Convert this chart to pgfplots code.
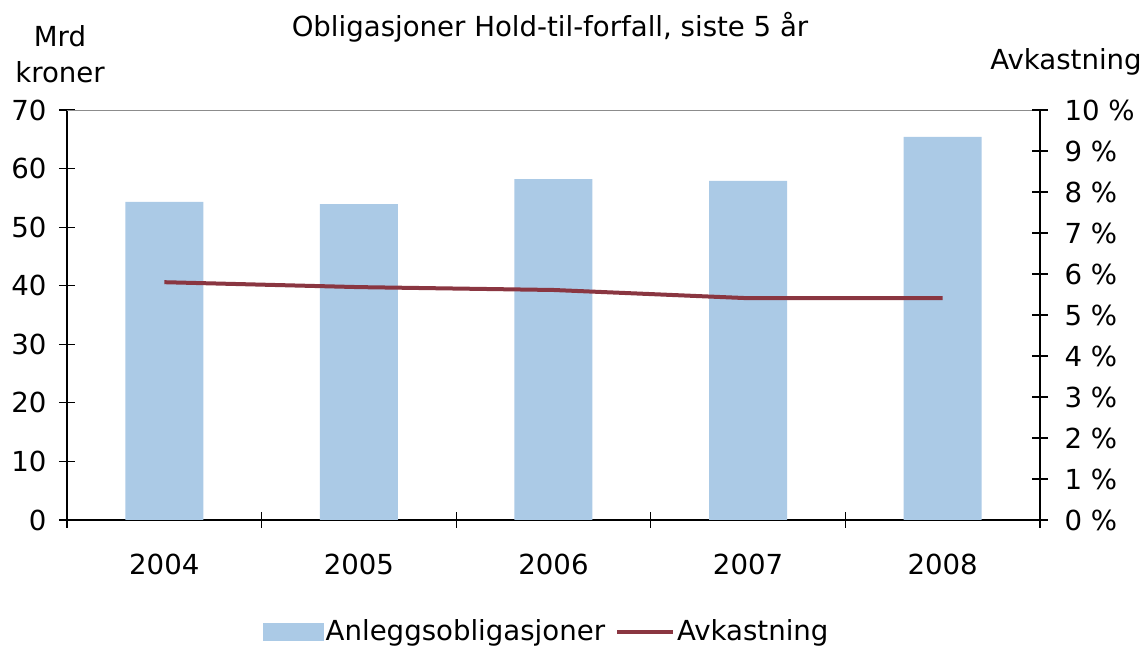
\documentclass[border=0pt]{standalone}
\usepackage{pgfplots}
\pgfplotsset{compat=1.18}
\usepackage{fontspec}
\setmainfont{DejaVu Sans}
\definecolor{barblue}{HTML}{ABCAE6}
\definecolor{linered}{HTML}{8A3641}
\definecolor{topgray}{HTML}{8C8C8C}

\pgfplotstableread{
x  mrd   avk
0  54.3  5.80
1  53.95 5.68
2  58.2  5.61
3  57.9  5.41
4  65.4  5.41
}\datatab

\begin{document}
\fontsize{13.8}{16}\selectfont
\begin{tikzpicture}
\pgfplotsset{
  common/.style={
    at={(0,0)}, anchor=south west,
    scale only axis,
    width=486.5pt, height=205pt,
    xmin=-0.5, xmax=4.5,
    /pgf/number format/assume math mode=true,
    tick align=center,
    major tick length=8pt,
    tick style={line width=0.6pt, black},
    axis line style={line width=0.7pt, black},
    ticklabel style={font=\fontsize{13.8}{16}\selectfont},
  }
}
\begin{axis}[
  common,
  axis x line*=bottom, axis y line*=left,
  ymin=0, ymax=70, ytick={0,10,...,70},
  yticklabel style={xshift=-1.5pt},
  xtick={0,1,2,3,4},
  xticklabels={2004,2005,2006,2007,2008},
  major x tick style={draw=none},
  xticklabel style={yshift=-8pt},
  extra x ticks={-0.5,0.5,1.5,2.5,3.5,4.5},
  extra x tick labels={},
  extra x tick style={major x tick style={draw=black, line width=0.6pt}},
]
\addplot[ybar, bar width=39pt, fill=barblue, draw=none, bar shift=0pt]
  table[x=x, y=mrd] {\datatab};
\draw[topgray, line width=1pt] (rel axis cs:0,1) -- (rel axis cs:1,1);
\end{axis}
\begin{axis}[
  common,
  axis y line*=right, axis x line=none,
  ymin=0, ymax=10, ytick={0,1,...,10},
  yticklabel={\pgfmathprintnumber{\tick}~\%},
  yticklabel style={xshift=3.5pt},
  legend columns=2,
  legend style={draw=none, fill=none, at={(0.493,-0.273)}, anchor=center,
    font=\fontsize{13.8}{16}\selectfont,
    /tikz/every even column/.append style={column sep=4pt},
    inner sep=0pt, nodes={inner sep=1pt}},
]
\addlegendimage{legend image code/.code={
  \fill[barblue] (0pt,-4.25pt) rectangle (30pt,4.25pt);}}
\addlegendentry{Anleggsobligasjoner}
\addplot[linered, line width=2pt, mark=none,
  legend image code/.code={\draw[linered, line width=2pt] (0pt,0pt) -- (28pt,0pt);}]
  table[x=x, y=avk] {\datatab};
\addlegendentry{Avkastning}
\end{axis}
\node[align=center, inner sep=0pt] at (-3.5pt,233pt) {Mrd\\[2pt]kroner};
\node[inner sep=0pt] at (499.5pt,229pt) {Avkastning};
\node[inner sep=0pt] at (241.5pt,246.5pt) {Obligasjoner Hold-til-forfall, siste 5 år};
\pgfresetboundingbox
\path[use as bounding box] (-33.5pt,-63.5pt) rectangle (537.5pt,260pt);
\end{tikzpicture}
\end{document}
